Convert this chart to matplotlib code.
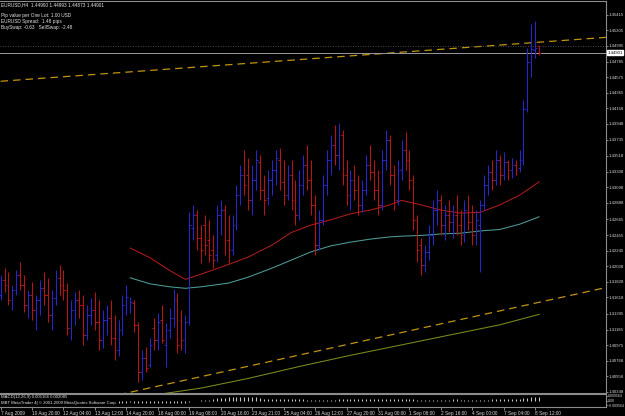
import matplotlib

matplotlib.use("Agg")
import matplotlib.pyplot as plt
import numpy as np

plt.rcParams["font.family"] = ["Liberation Sans", "DejaVu Sans"]

# EURUSD H4 — OHLC em unidades de 0.0001 (pips)
opens = [
    14165, 14185, 14178, 14158, 14172, 14192, 14178, 14151,
    14165, 14145, 14158, 14174, 14165, 14138, 14161, 14188,
    14178, 14172, 14121, 14145, 14158, 14151, 14111, 14138,
    14145, 14129, 14104, 14131, 14134, 14107, 14091, 14118,
    14151, 14147, 14154, 14125, 14061, 14080, 14071, 14121,
    14104, 14131, 14098, 14118, 14134, 14158, 14131, 14104,
    14129, 14255, 14272, 14241, 14259, 14239, 14225, 14219,
    14272, 14279, 14239, 14225, 14259, 14299, 14326, 14326,
    14292, 14319, 14343, 14306, 14295, 14319, 14333, 14346,
    14317, 14299, 14326, 14292, 14272, 14313, 14339, 14319,
    14286, 14232, 14266, 14313, 14346, 14366, 14353, 14380,
    14326, 14299, 14319, 14306, 14286, 14306, 14339, 14330,
    14306, 14286, 14346, 14373, 14326, 14292, 14333, 14360,
    14346, 14319, 14266, 14232, 14205, 14223, 14245, 14279,
    14292, 14259, 14272, 14263, 14272, 14259, 14245, 14279,
    14263, 14245, 14259, 14286, 14313, 14330, 14319, 14346,
    14326, 14343, 14333, 14339, 14335, 14346, 14415, 14478,
    14494, 14499,
]
highs = [
    14192, 14201, 14196, 14178, 14198, 14209, 14192, 14172,
    14182, 14165, 14185, 14196, 14188, 14172, 14198, 14205,
    14198, 14181, 14158, 14169, 14172, 14165, 14151, 14161,
    14169, 14158, 14145, 14151, 14158, 14138, 14131, 14165,
    14178, 14162, 14158, 14129, 14091, 14095, 14107, 14134,
    14141, 14151, 14127, 14147, 14173, 14168, 14145, 14138,
    14276, 14286, 14279, 14259, 14272, 14266, 14245, 14286,
    14292, 14286, 14272, 14272, 14313, 14339, 14360, 14349,
    14339, 14360, 14353, 14326, 14333, 14346, 14360, 14362,
    14346, 14339, 14346, 14319, 14333, 14353, 14366, 14346,
    14299, 14279, 14326, 14360, 14380, 14393, 14396, 14386,
    14346, 14333, 14339, 14326, 14319, 14353, 14366, 14346,
    14333, 14360, 14386, 14380, 14339, 14346, 14373, 14384,
    14360, 14326, 14272, 14241, 14232, 14259, 14292, 14306,
    14299, 14286, 14292, 14286, 14299, 14279, 14292, 14299,
    14286, 14279, 14292, 14326, 14339, 14346, 14360, 14353,
    14357, 14346, 14349, 14346, 14360, 14427, 14497, 14529,
    14533, 14499,
]
lows = [
    14158, 14169, 14151, 14145, 14165, 14172, 14142, 14134,
    14131, 14118, 14138, 14151, 14129, 14118, 14151, 14165,
    14158, 14111, 14104, 14125, 14134, 14098, 14104, 14125,
    14118, 14091, 14094, 14111, 14098, 14078, 14083, 14111,
    14138, 14141, 14115, 14048, 14051, 14061, 14068, 14091,
    14091, 14100, 14068, 14107, 14122, 14087, 14091, 14087,
    14125, 14239, 14225, 14208, 14219, 14209, 14201, 14209,
    14245, 14219, 14208, 14219, 14252, 14286, 14299, 14279,
    14272, 14306, 14292, 14272, 14286, 14299, 14313, 14306,
    14286, 14292, 14279, 14259, 14266, 14299, 14306, 14272,
    14219, 14225, 14259, 14299, 14326, 14339, 14333, 14313,
    14286, 14279, 14292, 14272, 14276, 14299, 14319, 14292,
    14272, 14279, 14333, 14313, 14279, 14286, 14319, 14333,
    14306, 14252, 14209, 14192, 14196, 14212, 14232, 14259,
    14245, 14239, 14249, 14241, 14245, 14232, 14236, 14252,
    14232, 14232, 14196, 14279, 14299, 14306, 14313, 14313,
    14319, 14319, 14322, 14326, 14330, 14339, 14411, 14458,
    14483, 14487,
]
closes = [
    14185, 14178, 14158, 14172, 14192, 14178, 14151, 14165,
    14145, 14158, 14174, 14165, 14138, 14161, 14188, 14178,
    14172, 14121, 14145, 14158, 14151, 14111, 14138, 14145,
    14129, 14104, 14131, 14134, 14107, 14091, 14118, 14151,
    14162, 14155, 14125, 14061, 14080, 14067, 14098, 14104,
    14129, 14104, 14118, 14134, 14158, 14098, 14104, 14129,
    14259, 14272, 14241, 14225, 14232, 14219, 14212, 14272,
    14279, 14239, 14225, 14259, 14299, 14326, 14313, 14292,
    14319, 14346, 14306, 14292, 14319, 14333, 14349, 14317,
    14299, 14326, 14292, 14272, 14313, 14339, 14319, 14286,
    14232, 14266, 14313, 14346, 14366, 14353, 14380, 14326,
    14299, 14319, 14306, 14286, 14306, 14339, 14330, 14306,
    14286, 14346, 14373, 14326, 14292, 14333, 14360, 14346,
    14319, 14266, 14225, 14205, 14223, 14245, 14279, 14292,
    14259, 14272, 14263, 14272, 14259, 14245, 14279, 14263,
    14245, 14266, 14286, 14313, 14330, 14319, 14346, 14326,
    14343, 14333, 14339, 14333, 14346, 14415, 14478, 14495,
    14497, 14490,
]

# médias móveis (barra, preço em pips)
ma_red_idx = [33, 38, 43, 47, 51, 58, 63, 69, 74, 79, 84, 89, 94, 99, 102, 107, 112, 117, 122, 127, 132, 137]
ma_red = [14228, 14215, 14198, 14186, 14193, 14206, 14216, 14232, 14249, 14259, 14266, 14274, 14279,
          14286, 14292, 14286, 14279, 14275, 14276, 14286, 14299, 14317]
ma_teal_idx = ma_red_idx
ma_teal = [14188, 14180, 14176, 14174, 14176, 14181, 14189, 14201, 14212, 14223, 14231, 14236, 14240,
           14243, 14244, 14245, 14247, 14248, 14251, 14253, 14260, 14270]
ma_olive_idx = [38, 42, 51, 63, 76, 89, 102, 114, 127, 137]
ma_olive = [14029, 14033, 14040, 14053, 14069, 14084, 14098, 14111, 14125, 14139]

# linhas de tendência (barra, preço em pips)
trend_upper_idx = [0, 154]
trend_upper = [14452, 14511]
trend_lower_idx = [30, 154]
trend_lower = [14031, 14175]

# MACD(12,26,9) principal
macd = [
    -0.0010, -0.0012, -0.0015, -0.0014, -0.0012, -0.0013, -0.0016, -0.0018,
    -0.0020, -0.0021, -0.0019, -0.0018, -0.0020, -0.0022, -0.0019, -0.0017,
    -0.0018, -0.0022, -0.0025, -0.0024, -0.0023, -0.0026, -0.0028, -0.0027,
    -0.0028, -0.0031, -0.0032, -0.0031, -0.0033, -0.0036, -0.0036, -0.0033,
    -0.0031, -0.0029, -0.0030, -0.0038, -0.0041, -0.0043, -0.0042, -0.0042,
    -0.0040, -0.0040, -0.0039, -0.0036, -0.0032, -0.0033, -0.0033, -0.0031,
    -0.0020, -0.0010, -0.0004, 0.0003, 0.0008, 0.0012, 0.0016,
    0.0035, 0.0040, 0.0044, 0.0047, 0.0050, 0.0053, 0.0055, 0.0056, 0.0055, 0.0052, 0.0048,
    0.0030, 0.0028, 0.0026, 0.0025, 0.0024, 0.0022, 0.0021, 0.0020, 0.0018, 0.0016,
    0.0016, 0.0015, 0.0013, 0.0012, 0.0010,
    0.0004, 0.0002, 0.0001, 0.0002, 0.0004,
    0.0015, 0.0018, 0.0020, 0.0022, 0.0023, 0.0024, 0.0025, 0.0025, 0.0024, 0.0024, 0.0023,
    0.0024, 0.0025, 0.0026, 0.0025, 0.0024, 0.0023, 0.0022, 0.0020, 0.0017, 0.0014, 0.0012,
    0.0010, 0.0009, 0.0010, 0.0012, 0.0013, 0.0014, 0.0014, 0.0015, 0.0015, 0.0014, 0.0013,
    0.0012, 0.0011, 0.0010, 0.0010, 0.0012, 0.0014,
    0.0016, 0.0018, 0.0020, 0.0022, 0.0024, 0.0026, 0.0027, 0.0029, 0.0035, 0.0042, 0.0048,
    0.0052, 0.0052,
]

price_ticks = [1.45415, 1.45205, 1.44995, 1.44785, 1.44575, 1.44365, 1.44158, 1.43948, 1.43735,
               1.43518, 1.43308, 1.43098, 1.42888, 1.42665, 1.42455, 1.42245, 1.42038, 1.41828,
               1.41618, 1.41395, 1.41185, 1.40975, 1.40768, 1.40558, 1.40348]
time_tick_idx = list(range(0, 137, 8))
time_labels = ["7 Aug 2009", "10 Aug 20:00", "12 Aug 04:00", "13 Aug 12:00", "14 Aug 20:00",
               "18 Aug 00:00", "19 Aug 08:00", "20 Aug 16:00", "23 Aug 21:00", "25 Aug 04:00",
               "26 Aug 12:00", "27 Aug 20:00", "31 Aug 00:00", "1 Sep 08:00", "2 Sep 16:00",
               "4 Sep 00:00", "7 Sep 04:00", "8 Sep 12:00"]
bid = 1.44901
ask_line = 1.44995

P = 1e-4
o, h, l, c = (np.array(a) * P for a in (opens, highs, lows, closes))
x = np.arange(len(o))

W, H = 625, 416
FS = 3.4  # fonte de pixel do MT4: bem pequena
FS_PRECO = 3.1
fig = plt.figure(figsize=(W / 100, H / 100), dpi=100, facecolor="black")
ax = fig.add_axes([0, 23 / H, 606 / W, 392 / H], facecolor="black")
axm = fig.add_axes([0, 9 / H, 606 / W, 13 / H], facecolor="black")

AZUL, VERM = "#2626cc", "#b81414"
cores = np.where(c >= o, AZUL, VERM)
lw = 0.75

# médias e linhas de tendência
ax.plot(ma_olive_idx, np.array(ma_olive) * P, color="#7d8a1c", lw=lw)
ax.plot(ma_teal_idx, np.array(ma_teal) * P, color="#4d9c98", lw=lw)
ax.plot(ma_red_idx, np.array(ma_red) * P, color="#b01c1c", lw=lw)
for xi, yi in ((trend_upper_idx, trend_upper), (trend_lower_idx, trend_lower)):
    ax.plot(xi, np.array(yi) * P, color="#c09410", lw=0.9, ls=(0, (6, 4)))

ax.axhline(ask_line, color="#606060", lw=0.6, ls=(0, (1, 2)))
ax.axhline(bid, color="#9a9a9a", lw=0.7)

# barras OHLC
ax.vlines(x, l, h, colors=cores, lw=lw)
ax.hlines(o, x - 0.45, x, colors=cores, lw=lw)
ax.hlines(c, x, x + 0.45, colors=cores, lw=lw)

ax.set_xlim(-0.15, 154.0)
ax.set_ylim(1.40334, 1.45598)
ax.set_xticks([])
ax.yaxis.tick_right()
ax.set_yticks(price_ticks)
ax.set_yticklabels([f"{v:.5f}" for v in price_ticks])
ax.tick_params(axis="y", colors="#9a9a9a", labelcolor="#d8d8d8", labelsize=FS_PRECO, length=1.6,
               width=0.6, pad=0.5)
for nome, sp in ax.spines.items():
    sp.set_color("#8c8c8c")
    sp.set_linewidth(0.8)
    sp.set_visible(nome != "left")

ax.annotate("1.44901", xy=(1.0, bid), xycoords=("axes fraction", "data"), xytext=(1.2, 0),
            textcoords="offset points", fontsize=FS_PRECO, color="black", va="center", ha="left",
            annotation_clip=False, bbox=dict(boxstyle="square,pad=0.1", fc="white", ec="white"))

# cabeçalho
fig.text(1.5 / W, 1 - 5 / H, "EURUSD,H4  1.44990 1.44993 1.44873 1.44901", color="#e6e6e6",
         fontsize=FS, va="center", ha="left")
for yy, txt in ((15, "Pip value per One Lot: 1.00 USD"), (21.5, "EURUSD Spread:  1.48 pips"),
                (28, "BuySwap: -0.63   SellSwap: -2.48")):
    fig.text(1.5 / W, 1 - yy / H, txt, color="#e6e6e6", fontsize=FS, va="center", ha="left")

# painel MACD
axm.vlines(x, 0, macd, colors="#c8c8c8", lw=lw)
axm.set_xlim(-0.15, 154.0)
axm.set_ylim(-0.00956, 0.00956)
axm.yaxis.tick_right()
axm.set_yticks([0.0072, 0.0, -0.0072])
axm.set_yticklabels(["0.009564", "0.00", "-0.009564"])
axm.tick_params(axis="y", colors="#9a9a9a", labelcolor="#d8d8d8", labelsize=2.5, length=1.2, width=0.5, pad=0.5)
axm.set_xticks(time_tick_idx)
axm.set_xticklabels(time_labels, ha="left")
axm.tick_params(axis="x", colors="#9a9a9a", labelcolor="#d8d8d8", labelsize=FS, length=2.5, width=0.6, pad=0.3)
for nome, sp in axm.spines.items():
    sp.set_color("#8c8c8c")
    sp.set_linewidth(0.8)
    sp.set_visible(nome != "left")

caixa = dict(boxstyle="square,pad=0.05", fc="black", ec="none")
axm.text(0.002, 0.78, "MACD(12,26,9) 0.005166 0.002085", transform=axm.transAxes, fontsize=3.1,
         color="#e6e6e6", va="center", ha="left", bbox=caixa)
axm.text(0.002, 0.3, "MBT MetaTrader 4| \u00a9 2001-2009 MetaQuotes Software Corp.", transform=axm.transAxes,
         fontsize=3.1, color="#e6e6e6", va="center", ha="left", bbox=caixa)

fig.savefig("out.png", dpi=100, facecolor="black")
